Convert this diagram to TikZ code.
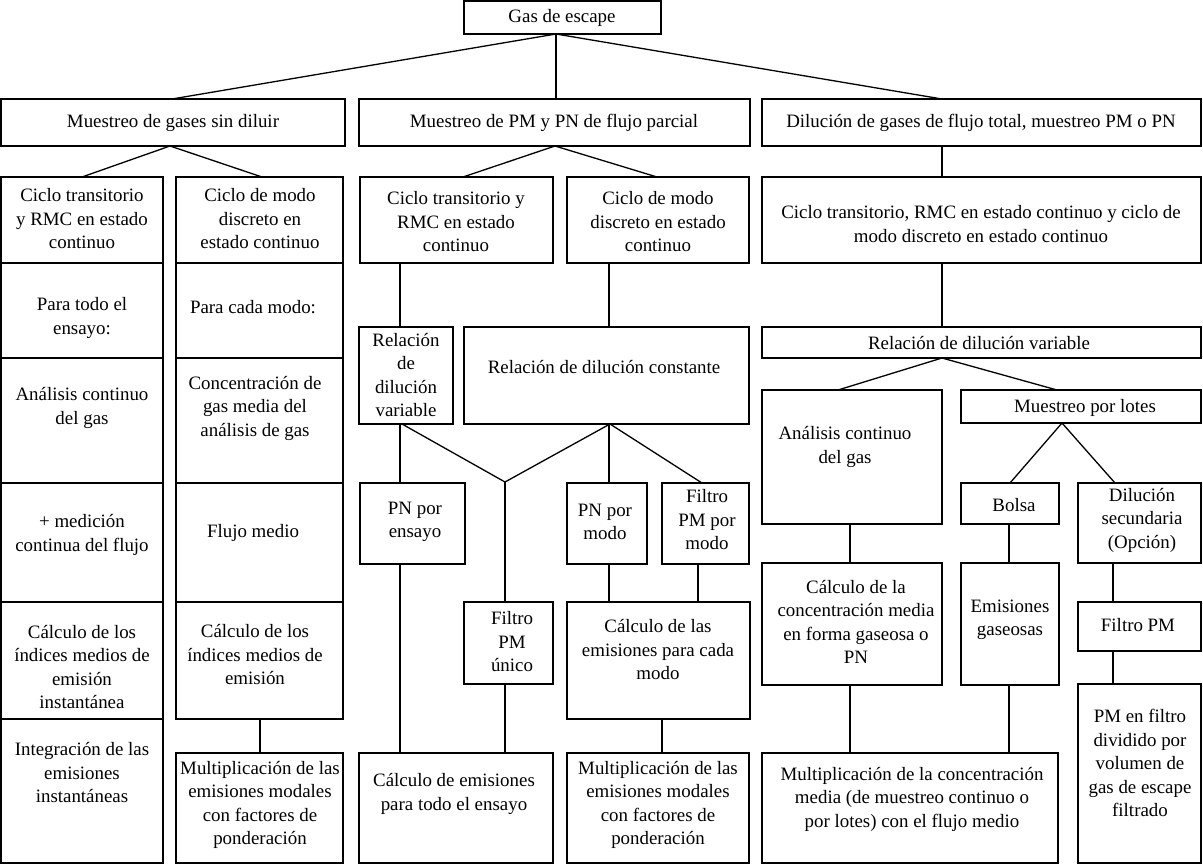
\documentclass[tikz,border=0pt]{standalone}
\usepackage{fontspec}
\setmainfont{Liberation Serif}
\usetikzlibrary{fit}
\newcommand{\mkbox}[8]{%
  \node[box, fit={(#2,#3) (#4,#5)}] (#1) {};
  \node[txt] (#1t) at (#6,#7) {#8};}
\begin{document}
\begin{tikzpicture}[x=1pt,y=-1pt,
  box/.style={draw, line width=1.7pt, inner sep=0pt, outer sep=0pt},
  txt/.style={align=center, font=\fontsize{18.9}{23.5}\selectfont, inner sep=0pt},
  conn/.style={line width=1.3pt}]
\useasboundingbox[fill=white] (0,0) rectangle (1203,865);

% x positions of connectors
\foreach \xx in {82,170,172,260,262,400,402,463,505,555,556,609,610,657,662,698,702,838,850,942,1009,1010,1057,1062,1113,1115}
  {\coordinate (X\xx) at (\xx,0);}
\coordinate (J) at (505,482);

% level 0 and 1
\mkbox{gas}{464}{1}{661}{34}{562}{18}{Gas de escape}
\mkbox{a1}{1}{99}{345}{146}{173}{123}{Muestreo de gases sin diluir}
\mkbox{a2}{359}{99}{750}{146}{554}{123}{Muestreo de PM y PN de flujo parcial}
\mkbox{a3}{762}{99}{1201}{146}{981}{123}{Dilución de gases de flujo total, muestreo PM o PN}

% level 2
\mkbox{b1}{1}{177}{163}{263}{82}{219}{Ciclo transitorio\\y RMC en estado\\continuo}
\mkbox{b2}{176}{177}{343}{263}{260}{219}{Ciclo de modo\\discreto en\\estado continuo}
\mkbox{b3}{360}{177}{553}{263}{456}{222}{Ciclo transitorio y\\RMC en estado\\continuo}
\mkbox{b4}{567}{177}{749}{263}{658}{222}{Ciclo de modo\\discreto en estado\\continuo}
\mkbox{b5}{762}{177}{1201}{263}{981}{224}{Ciclo transitorio, RMC en estado continuo y ciclo de\\modo discreto en estado continuo}

% left stacks
\mkbox{c1}{1}{263}{163}{358}{82}{318}{Para todo el\\ensayo:}
\mkbox{c2}{176}{263}{343}{358}{253}{307}{Para cada modo:}
\mkbox{d1}{1}{358}{163}{483}{82}{408}{Análisis continuo\\del gas}
\mkbox{d2}{176}{358}{343}{483}{255}{408}{Concentración de\\gas media del\\análisis de gas}
\mkbox{e1}{1}{483}{163}{602}{82}{535}{+ medición\\continua del flujo}
\mkbox{e2}{176}{483}{343}{602}{253}{533}{Flujo medio}
\mkbox{f1}{1}{602}{163}{719}{82}{667}{Cálculo de los\\índices medios de\\emisión\\instantánea}
\mkbox{f2}{176}{602}{343}{719}{255}{655}{Cálculo de los\\índices medios de\\emisión}
\mkbox{g1}{1}{719}{163}{863}{82}{773}{Integración de las\\emisiones\\instantáneas}
\mkbox{g2}{176}{753}{343}{863}{260}{805}{Multiplicación de las\\emisiones modales\\con factores de\\ponderación}

% middle
\mkbox{r1}{359}{327}{453}{424}{406}{375}{Relación\\de\\dilución\\variable}
\mkbox{r2}{464}{327}{749}{424}{604}{367}{Relación de dilución constante}
\mkbox{pne}{360}{483}{465}{564}{415}{522}{PN por\\ensayo}
\mkbox{pnm}{567}{483}{647}{564}{605}{522}{PN por\\modo}
\mkbox{fpm}{662}{483}{749}{564}{707}{520}{Filtro\\PM por\\modo}
\mkbox{fpu}{464}{602}{553}{684}{512}{642}{Filtro\\PM\\único}
\mkbox{cem}{567}{602}{750}{719}{658}{650}{Cálculo de las\\emisiones para cada\\modo}
\mkbox{cet}{359}{753}{553}{863}{454}{794}{Cálculo de emisiones\\para todo el ensayo}
\mkbox{mm}{567}{753}{749}{863}{658}{805}{Multiplicación de las\\emisiones modales\\con factores de\\ponderación}

% right
\mkbox{r3}{762}{327}{1201}{358}{979}{343}{Relación de dilución variable}
\mkbox{acg}{762}{390}{942}{524}{845}{447}{Análisis continuo\\del gas}
\mkbox{mpl}{961}{390}{1201}{423}{1085}{408}{Muestreo por lotes}
\mkbox{bolsa}{961}{483}{1059}{524}{1014}{505}{Bolsa}
\mkbox{ds}{1078}{483}{1201}{563}{1142}{520}{Dilución\\secundaria\\(Opción)}
\mkbox{ccm}{762}{563}{942}{685}{856}{622}{Cálculo de la\\concentración media\\en forma gaseosa o\\PN}
\mkbox{eg}{961}{563}{1059}{685}{1010}{620}{Emisiones\\gaseosas}
\mkbox{fpmb}{1078}{602}{1201}{651}{1138}{625}{Filtro PM}
\mkbox{pmf}{1078}{684}{1201}{863}{1140}{763}{PM en filtro\\dividido por\\volumen de\\gas de escape\\filtrado}
\mkbox{mcm}{762}{753}{1058}{863}{912}{799}{Multiplicación de la concentración\\media (de muestreo continuo o\\por lotes) con el flujo medio}

% connectors
\draw[conn] (gas.south -| X556) -- (a1.north -| X172);
\draw[conn] (gas.south -| X556) -- (a2.north -| X556);
\draw[conn] (gas.south -| X556) -- (a3.north -| X942);
\draw[conn] (a1.south -| X170) -- (b1.north -| X82);
\draw[conn] (a1.south -| X170) -- (b2.north -| X262);
\draw[conn] (a2.south -| X555) -- (b3.north -| X463);
\draw[conn] (a2.south -| X555) -- (b4.north -| X657);
\draw[conn] (a3.south -| X942) -- (b5.north -| X942);
\draw[conn] (b3.south -| X400) -- (r1.north -| X400);
\draw[conn] (b4.south -| X609) -- (r2.north -| X609);
\draw[conn] (b5.south -| X942) -- (r3.north -| X942);
\draw[conn] (r1.south -| X400) -- (pne.north -| X400);
\draw[conn] (r1.south -| X402) -- (J);
\draw[conn] (r2.south -| X610) -- (J);
\draw[conn] (J) -- (fpu.north -| X505);
\draw[conn] (r2.south -| X609) -- (pnm.north -| X609);
\draw[conn] (r2.south -| X610) -- (fpm.north -| X702);
\draw[conn] (pne.south -| X400) -- (cet.north -| X400);
\draw[conn] (fpu.south -| X505) -- (cet.north -| X505);
\draw[conn] (pnm.south -| X609) -- (cem.north -| X609);
\draw[conn] (fpm.south -| X698) -- (cem.north -| X698);
\draw[conn] (cem.south -| X662) -- (mm.north -| X662);
\draw[conn] (f2.south -| X260) -- (g2.north -| X260);
\draw[conn] (r3.south -| X942) -- (acg.north -| X838);
\draw[conn] (r3.south -| X942) -- (mpl.north -| X1057);
\draw[conn] (mpl.south -| X1062) -- (bolsa.north -| X1010);
\draw[conn] (mpl.south -| X1062) -- (ds.north -| X1115);
\draw[conn] (acg.south -| X850) -- (ccm.north -| X850);
\draw[conn] (bolsa.south -| X1009) -- (eg.north -| X1009);
\draw[conn] (ds.south -| X1113) -- (fpmb.north -| X1113);
\draw[conn] (fpmb.south -| X1113) -- (pmf.north -| X1113);
\draw[conn] (ccm.south -| X850) -- (mcm.north -| X850);
\draw[conn] (eg.south -| X1009) -- (mcm.north -| X1009);
\end{tikzpicture}
\end{document}
